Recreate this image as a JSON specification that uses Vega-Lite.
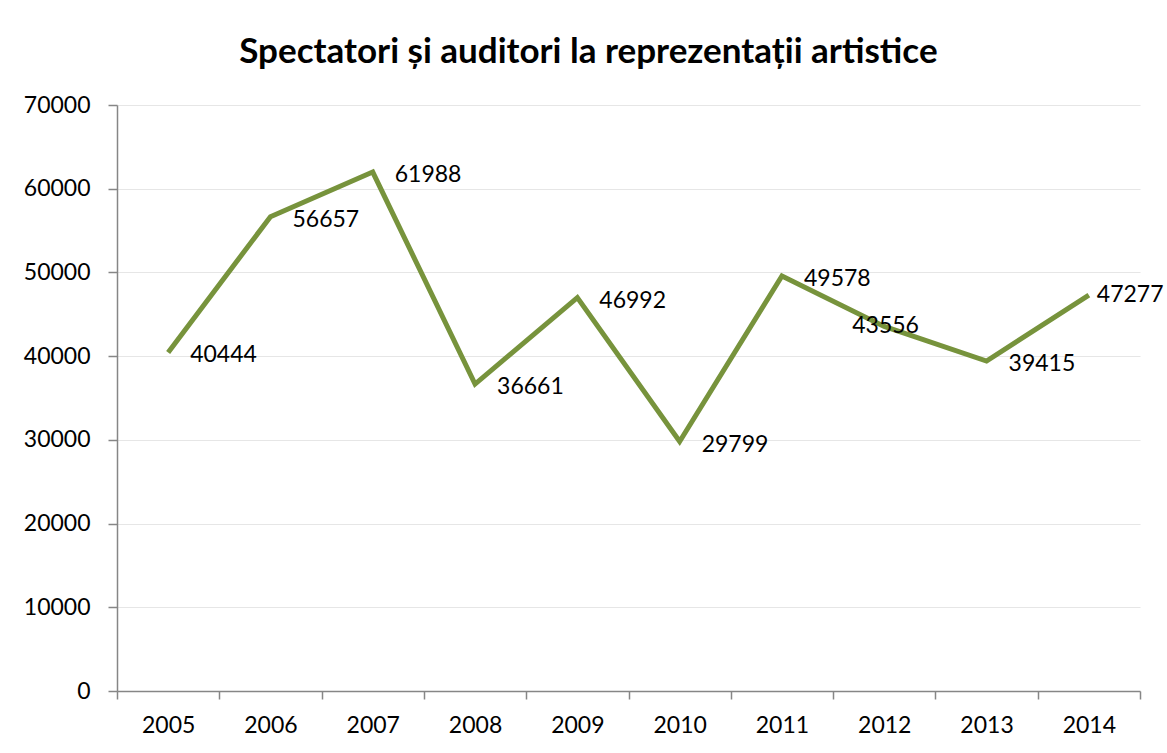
{
  "$schema": "https://vega.github.io/schema/vega-lite/v6.json",
  "width": 1023,
  "height": 586,
  "autosize": {"type": "none"},
  "padding": {"left": 117, "top": 105, "right": 27, "bottom": 62},
  "background": "white",
  "config": {
    "font": "Lato",
    "view": {"stroke": null}
  },
  "title": {
    "text": "Spectatori și auditori la reprezentații artistice",
    "font": "Lato",
    "fontSize": 35,
    "fontWeight": "bold",
    "color": "#000000",
    "anchor": "middle",
    "frame": "bounds",
    "offset": 24,
    "dx": -5
  },
  "data": {
    "values": [
      {"year": "2005", "value": 40444},
      {"year": "2006", "value": 56657},
      {"year": "2007", "value": 61988},
      {"year": "2008", "value": 36661},
      {"year": "2009", "value": 46992},
      {"year": "2010", "value": 29799},
      {"year": "2011", "value": 49578},
      {"year": "2012", "value": 43556},
      {"year": "2013", "value": 39415},
      {"year": "2014", "value": 47277}
    ]
  },
  "encoding": {
    "x": {
      "field": "year",
      "type": "ordinal",
      "scale": {"paddingInner": 0, "paddingOuter": 0},
      "axis": {
        "title": null,
        "labelAngle": 0,
        "labelFont": "Lato",
        "labelFontSize": 23,
        "labelColor": "#000000",
        "labelPadding": 15,
        "domainColor": "#868686",
        "domainWidth": 1.5,
        "tickColor": "#868686",
        "tickWidth": 1.5,
        "tickSize": 8,
        "tickBand": "extent",
        "grid": false
      }
    },
    "y": {
      "field": "value",
      "type": "quantitative",
      "scale": {"domain": [0, 70000], "nice": false},
      "axis": {
        "title": null,
        "values": [0, 10000, 20000, 30000, 40000, 50000, 60000, 70000],
        "format": "d",
        "labelFont": "Lato",
        "labelFontSize": 23,
        "labelColor": "#000000",
        "labelPadding": 18,
        "domainColor": "#868686",
        "domainWidth": 1.5,
        "tickColor": "#868686",
        "tickWidth": 1.5,
        "tickSize": 9,
        "grid": true,
        "gridColor": "#e6e6e6",
        "gridWidth": 1.2
      }
    }
  },
  "layer": [
    {
      "mark": {"type": "line", "color": "#77933C", "strokeWidth": 5, "strokeJoin": "miter", "strokeCap": "butt"}
    },
    {
      "transform": [{"filter": "datum.year != '2012' && datum.year != '2014'"}],
      "mark": {"type": "text", "align": "left", "baseline": "middle", "dx": 22, "dy": 3, "fontSize": 23, "font": "Lato", "color": "#000000"},
      "encoding": {"text": {"field": "value", "type": "quantitative", "format": "d"}}
    },
    {
      "transform": [{"filter": "datum.year == '2012'"}],
      "mark": {"type": "text", "align": "left", "baseline": "middle", "dx": -32, "dy": 0, "fontSize": 23, "font": "Lato", "color": "#000000"},
      "encoding": {"text": {"field": "value", "type": "quantitative", "format": "d"}}
    },
    {
      "transform": [{"filter": "datum.year == '2014'"}],
      "mark": {"type": "text", "align": "left", "baseline": "middle", "dx": 8, "dy": 0, "fontSize": 23, "font": "Lato", "color": "#000000"},
      "encoding": {"text": {"field": "value", "type": "quantitative", "format": "d"}}
    }
  ]
}
